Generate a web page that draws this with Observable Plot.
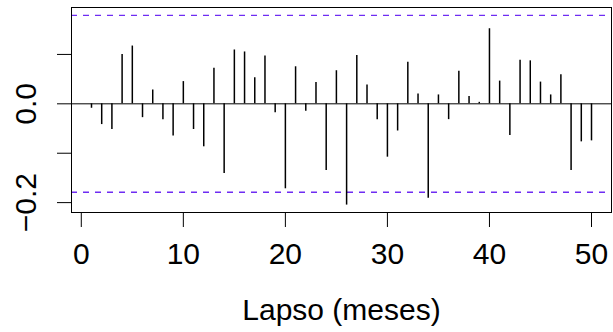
<!DOCTYPE html>
<html>
<head>
<meta charset="utf-8">
<script src="https://cdn.jsdelivr.net/npm/d3@7"></script>
<script src="https://cdn.jsdelivr.net/npm/@observablehq/plot@0.6"></script>
<style>
  html, body { margin: 0; padding: 0; background: #fff; }
  #chart { width: 613px; height: 332px; }
</style>
</head>
<body>
<div id="chart"></div>
<script>
const lags = [1,2,3,4,5,6,7,8,9,10,11,12,13,14,15,16,17,18,19,20,21,22,23,24,25,26,27,28,29,30,31,32,33,34,35,36,37,38,39,40,41,42,43,44,45,46,47,48,49,50];
const acfValues = [-0.009,-0.042,-0.052,0.100,0.117,-0.028,0.028,-0.032,-0.065,0.045,-0.052,-0.087,0.072,-0.141,0.109,0.105,0.053,0.097,-0.018,-0.172,0.075,-0.015,0.043,-0.135,0.067,-0.205,0.098,0.038,-0.032,-0.108,-0.055,0.084,0.020,-0.191,0.018,-0.032,0.066,0.015,0.003,0.152,0.046,-0.064,0.088,0.087,0.044,0.018,0.059,-0.135,-0.077,-0.075];
const confLimits = [0.179, -0.179];
const xTicks = [0,10,20,30,40,50];
const yTicks = [-0.2,-0.1,0,0.1];
const yLabels = [{v: 0, t: "0.0"}, {v: -0.2, t: "\u22120.2"}];
const xTitle = "Lapso (meses)";

const data = lags.map((l, i) => ({lag: l, acf: acfValues[i]}));
const font = "'Liberation Sans', Arial, Helvetica, sans-serif";

const chart = Plot.plot({
  width: 613,
  height: 332,
  marginLeft: 71,
  marginRight: 2,
  marginTop: 7,
  marginBottom: 120,
  style: {fontFamily: font, background: "#fff", color: "#000"},
  x: {domain: [-0.96, 51.96]},
  y: {domain: [-0.22, 0.195]},
  marks: [
    Plot.ruleY([0], {stroke: "#000", strokeWidth: 1}),
    Plot.ruleY(confLimits, {stroke: "#6f2cf2", strokeWidth: 1.3, strokeDasharray: "6,6"}),
    Plot.ruleX(data, {x: "lag", y1: 0, y2: "acf", stroke: "#000", strokeWidth: 1.5}),
    Plot.frame({stroke: "#000", strokeWidth: 1}),
    Plot.axisX({ticks: xTicks, tickSize: 15, tickPadding: 15, fontSize: 30, label: null, tickFormat: d => String(d), stroke: "#000"}),
    Plot.axisY({ticks: yTicks, tickSize: 14, tickFormat: () => "", label: null, stroke: "#000"}),
    Plot.text(yLabels, {y: "v", text: "t", frameAnchor: "left", dx: -45, rotate: -90, fontSize: 30, fill: "#000", textAnchor: "middle", lineAnchor: "middle"}),
    Plot.text([xTitle], {text: d => d, frameAnchor: "bottom", dy: 98, fontSize: 30, fill: "#000", lineAnchor: "middle"})
  ]
});
document.getElementById("chart").appendChild(chart);
</script>
</body>
</html>
